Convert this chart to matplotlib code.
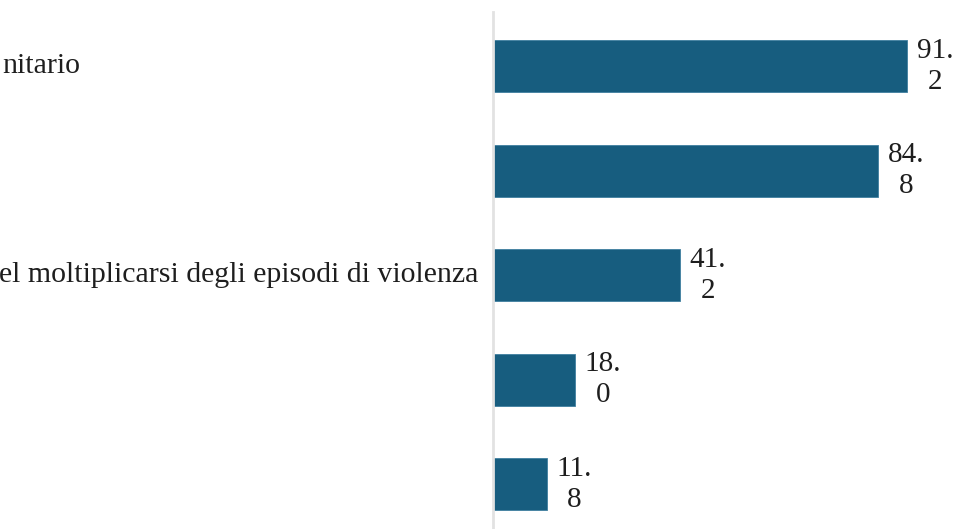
import matplotlib.pyplot as plt
from matplotlib.transforms import blended_transform_factory

# visible parts of the category labels (the left side is cropped)
categories = ['nitario', '', 'el moltiplicarsi degli episodi di violenza', '', '']
label_right_px = [80, 478, 478, 478, 478]
values = [91.2, 84.8, 41.2, 18.0, 11.8]

W, H = 955, 529
fig = plt.figure(figsize=(W / 100, H / 100), dpi=100)
ax = fig.add_axes([493 / W, 0, 1 - 493 / W, 517 / H])

ypos = list(range(len(values)))
ax.barh(ypos, values, height=0.5, color='#175d7f', edgecolor='#3f7f9f', linewidth=0.6)
ax.set_xlim(0, 101.8)
ax.set_ylim(4.43, -0.52)

for sp in ['top', 'right', 'bottom']:
    ax.spines[sp].set_visible(False)
ax.spines['left'].set_color('#e2e2e2')
ax.spines['left'].set_linewidth(2)
ax.set_xticks([])
ax.set_yticks([])

serif = ['Liberation Serif', 'DejaVu Serif']

for y, v in zip(ypos, values):
    s = f'{v:.1f}'
    txt = s[:3] + '\n' + s[3:]
    ax.annotate(txt, xy=(v, y), xytext=(7, 0), textcoords='offset points',
                ha='left', va='center', multialignment='center',
                fontsize=21, family=serif, color='#1e1e1e', linespacing=1.25)

tr = blended_transform_factory(fig.transFigure, ax.transData)
for y, lab, px in zip(ypos, categories, label_right_px):
    if lab:
        fig.text(px / W, y, lab, transform=tr, ha='right', va='center',
                 fontsize=21.5, family=serif, color='#1e1e1e')

fig.savefig('out.png', dpi=100)
